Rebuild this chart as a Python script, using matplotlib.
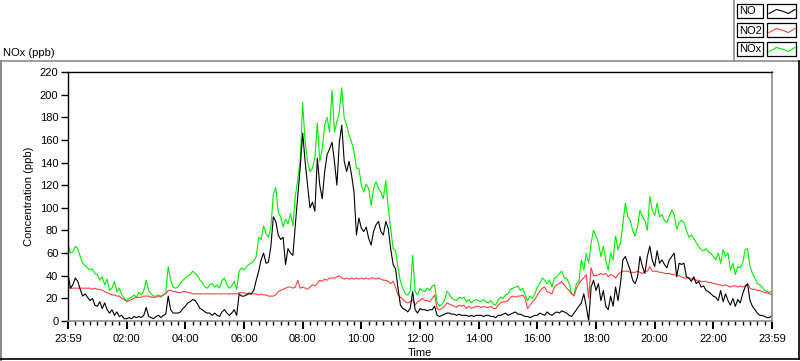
import matplotlib
matplotlib.use("Agg")
import matplotlib.pyplot as plt
from matplotlib.lines import Line2D
from matplotlib.patches import Rectangle
from matplotlib.ticker import MultipleLocator, FixedLocator
import numpy as np

plt.rcParams['font.family'] = ['Liberation Sans', 'DejaVu Sans']

# ---- data (5-minute samples from 23:59 to 23:59) ----
STEP_MIN = 5
no_ppb = [
    42, 29, 32, 38, 35, 28, 22, 24, 21, 18, 20, 14,
    13, 17, 11, 16, 10, 7, 10, 5, 8, 4, 5, 2,
    2, 3, 2, 4, 3, 4, 3, 5, 12, 4, 3, 2,
    4, 5, 3, 5, 6, 22, 10, 7, 7, 7, 8, 11,
    13, 16, 17, 19, 18, 15, 11, 10, 8, 7, 7, 5,
    7, 5, 4, 8, 10, 7, 5, 7, 10, 5, 24, 22,
    22, 23, 24, 24, 27, 36, 44, 54, 60, 51, 52, 66,
    92, 88, 76, 72, 74, 50, 64, 60, 58, 85, 110, 136,
    166, 141, 120, 100, 105, 97, 144, 120, 108, 132, 147, 152,
    158, 141, 120, 158, 173, 141, 132, 141, 129, 114, 76, 91,
    82, 79, 83, 73, 67, 79, 85, 88, 79, 76, 88, 82,
    64, 50, 46, 29, 14, 11, 10, 8, 11, 26, 10, 7,
    11, 10, 10, 9, 10, 10, 13, 5, 4, 5, 6, 7,
    7, 6, 6, 5, 6, 5, 5, 5, 4, 5, 4, 5,
    5, 5, 4, 5, 5, 4, 4, 3, 5, 5, 6, 7,
    5, 6, 7, 8, 6, 6, 5, 4, 4, 3, 4, 5,
    5, 7, 6, 5, 8, 6, 5, 7, 8, 7, 9, 8,
    7, 5, 4, 7, 10, 13, 16, 24, 13, 0, 30, 36,
    27, 33, 18, 27, 13, 10, 22, 13, 30, 18, 33, 54,
    57, 51, 45, 36, 33, 39, 57, 48, 42, 57, 66, 54,
    48, 62, 51, 54, 50, 47, 54, 57, 60, 39, 51, 50,
    51, 39, 38, 35, 39, 33, 35, 30, 31, 27, 26, 24,
    22, 21, 18, 27, 17, 24, 18, 14, 20, 13, 19, 16,
    24, 30, 33, 18, 13, 10, 7, 5, 5, 4, 3, 3, 5,
]
no2_ppb = [
    30, 29, 29, 29, 29, 29, 29, 29, 29, 29, 28, 29,
    28, 28, 27, 26, 25, 24, 23, 23, 22, 22, 20, 19,
    17, 18, 19, 20, 21, 21, 21, 22, 22, 22, 21, 21,
    21, 22, 22, 23, 24, 27, 27, 26, 26, 25, 25, 26,
    26, 25, 25, 24, 24, 24, 24, 24, 24, 24, 24, 24,
    24, 24, 24, 24, 24, 24, 24, 24, 24, 24, 25, 25,
    25, 24, 25, 24, 24, 24, 23, 24, 23, 23, 22, 22,
    22, 23, 26, 27, 28, 29, 30, 30, 29, 30, 36, 29,
    30, 29, 28, 30, 32, 31, 33, 36, 35, 37, 36, 38,
    38, 38, 39, 40, 38, 37, 38, 37, 38, 37, 38, 37,
    38, 37, 38, 37, 38, 38, 37, 38, 37, 36, 36, 35,
    33, 35, 30, 23, 21, 19, 17, 16, 17, 19, 14, 17,
    18, 20, 18, 18, 17, 20, 23, 11, 10, 11, 13, 16,
    15, 14, 13, 12, 14, 13, 14, 11, 13, 11, 12, 13,
    13, 12, 13, 12, 12, 13, 11, 11, 14, 16, 17, 17,
    18, 21, 22, 21, 22, 22, 23, 20, 11, 14, 17, 19,
    23, 26, 29, 30, 26, 25, 24, 30, 32, 33, 35, 32,
    29, 27, 24, 22, 29, 33, 36, 38, 41, 20, 47, 40,
    40, 41, 42, 41, 42, 39, 41, 40, 38, 41, 43, 44,
    44, 44, 43, 43, 43, 44, 43, 42, 44, 44, 48, 44,
    44, 44, 43, 43, 42, 42, 42, 41, 41, 40, 40, 39,
    38, 38, 38, 37, 37, 36, 36, 35, 35, 35, 34, 34,
    33, 33, 32, 32, 31, 32, 31, 30, 31, 31, 30, 31,
    30, 31, 33, 29, 28, 28, 27, 27, 26, 25, 25, 24, 23,
]
nox_ppb = [
    68, 60, 61, 66, 64, 57, 51, 49, 47, 45, 46, 42,
    41, 36, 39, 32, 37, 27, 29, 35, 26, 29, 23, 20,
    18, 20, 21, 23, 21, 25, 23, 27, 36, 27, 24, 22,
    22, 23, 21, 23, 25, 48, 36, 30, 29, 30, 33, 36,
    38, 40, 41, 44, 42, 40, 36, 34, 30, 29, 32, 33,
    30, 32, 29, 36, 38, 32, 29, 31, 35, 28, 44, 47,
    45, 48, 50, 51, 53, 57, 74, 72, 84, 77, 74, 83,
    112, 118, 96, 92, 83, 90, 86, 95, 84, 110, 125, 142,
    193, 158, 141, 132, 135, 144, 175, 141, 152, 173, 180, 167,
    204, 167, 176, 185, 206, 179, 173, 164, 158, 150, 135, 135,
    120, 114, 121, 117, 102, 117, 123, 117, 114, 108, 124, 100,
    82, 64, 62, 47, 35, 29, 24, 23, 26, 58, 26, 23,
    29, 27, 26, 29, 27, 31, 32, 16, 13, 15, 18, 26,
    24, 20, 19, 18, 21, 20, 21, 17, 19, 16, 18, 19,
    18, 17, 19, 17, 16, 18, 15, 14, 19, 21, 20, 23,
    24, 28, 29, 30, 31, 27, 29, 23, 18, 22, 20, 24,
    30, 33, 38, 36, 33, 36, 30, 38, 39, 42, 44, 38,
    38, 33, 24, 23, 33, 35, 54, 45, 60, 51, 69, 80,
    75, 69, 57, 66, 54, 45, 60, 54, 75, 63, 69, 86,
    104, 92, 89, 80, 75, 83, 98, 92, 89, 80, 110, 98,
    93, 104, 92, 94, 89, 87, 93, 98, 94, 81, 87, 89,
    87, 80, 74, 76, 73, 69, 66, 63, 62, 64, 61, 60,
    57, 54, 60, 51, 63, 57, 60, 45, 51, 41, 48, 47,
    51, 63, 64, 48, 42, 38, 33, 32, 30, 27, 26, 25, 27,
]
tick_labels = ["23:59", "02:00", "04:00", "06:00", "08:00", "10:00", "12:00",
               "14:00", "16:00", "18:00", "20:00", "22:00", "23:59"]
series_names = ["NO", "NO2", "NOx"]

# ---- style ----
W, H = 800, 361
C_NO, C_NO2, C_NOX = "#000000", "#ff3f3f", "#00ee00"
GRAY = "#8c8c8c"
LW = 0.8
FS = 8

minutes = np.arange(len(no_ppb)) * STEP_MIN

fig = plt.figure(figsize=(W / 100, H / 100), dpi=100)
fig.patch.set_facecolor("white")

def fx(px):
    return px / W

def fy(py):
    return 1 - py / H

ax = fig.add_axes([fx(68), fy(321), fx(772) - fx(68), fy(72) - fy(321)])
ax.plot(minutes, nox_ppb, color=C_NOX, lw=LW)
ax.plot(minutes, no2_ppb, color=C_NO2, lw=LW)
ax.plot(minutes, no_ppb, color=C_NO, lw=LW)

ax.set_xlim(0, 1440)
ax.set_ylim(0, 220)
ax.xaxis.set_major_locator(FixedLocator(np.arange(0, 1441, 120)))
ax.set_xticklabels(tick_labels)
ax.xaxis.set_minor_locator(MultipleLocator(15))
ax.yaxis.set_major_locator(MultipleLocator(20))
ax.tick_params(axis="both", which="major", labelsize=FS, length=5, width=1,
               color="black", pad=2)
ax.tick_params(axis="x", which="minor", length=3, width=1, color="black")
ax.tick_params(axis="x", which="major", length=6, width=1.5, pad=3)

for side in ("left", "top"):
    ax.spines[side].set_color("black")
    ax.spines[side].set_linewidth(1)
for side in ("right", "bottom"):
    ax.spines[side].set_color(GRAY)
    ax.spines[side].set_linewidth(1.2)

ax.set_xlabel("Time", fontsize=FS, labelpad=3)
ax.set_ylabel("Concentration (ppb)", fontsize=FS, labelpad=4)

fig.text(fx(3), fy(53), "NOx (ppb)", fontsize=FS, ha="left", va="center")

# outer frame
fig.add_artist(Line2D([fx(0.5), fx(800)], [fy(61), fy(61)], color=GRAY, lw=1.2))
fig.add_artist(Line2D([fx(0.8), fx(0.8)], [fy(61), fy(361)], color=GRAY, lw=1.5))
fig.add_artist(Line2D([fx(799), fx(799)], [fy(61), fy(359)], color="black", lw=1.2))
fig.add_artist(Line2D([fx(0), fx(799)], [fy(359), fy(359)], color="black", lw=1.2))
fig.add_artist(Line2D([fx(734), fx(734)], [fy(0), fy(61)], color=GRAY, lw=1.2))

# legend
row_top = [4, 23, 42]
colors = [C_NO, C_NO2, C_NOX]
for name, top, col in zip(series_names, row_top, colors):
    fig.add_artist(Rectangle((fx(737), fy(top + 14)), fx(763) - fx(737), fy(top) - fy(top + 14),
                             transform=fig.transFigure, fill=False, edgecolor="black", lw=0.9))
    fig.add_artist(Rectangle((fx(767), fy(top + 14)), fx(796) - fx(767), fy(top) - fy(top + 14),
                             transform=fig.transFigure, fill=False, edgecolor="black", lw=0.9))
    fig.text(fx(739), fy(top + 7.5), name, fontsize=FS, ha="left", va="center")
    zx = [769, 776.5, 782, 788.5, 795]
    zy = [top + 9.5, top + 5.5, top + 7, top + 9.5, top + 5.5]
    fig.add_artist(Line2D([fx(v) for v in zx], [fy(v) for v in zy], color=col, lw=LW))

fig.savefig("out.png", dpi=100, facecolor="white")
